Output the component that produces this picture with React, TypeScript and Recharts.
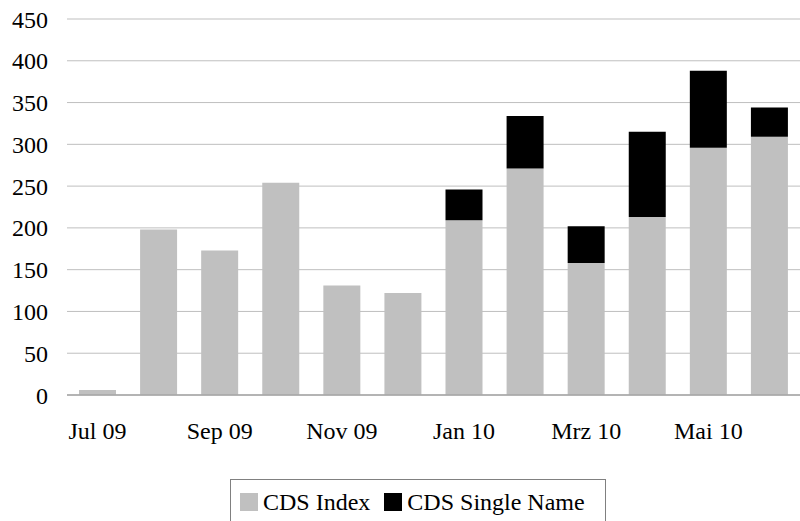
import { Bar, BarChart, CartesianGrid, XAxis, YAxis } from 'recharts'

const months = [
  'Jul 09', 'Aug 09', 'Sep 09', 'Okt 09', 'Nov 09', 'Dez 09',
  'Jan 10', 'Feb 10', 'Mrz 10', 'Apr 10', 'Mai 10', 'Jun 10',
]
const cdsIndex = [6, 198, 173, 254, 131, 122, 209, 271, 158, 213, 296, 309]
const cdsSingle = [0, 0, 0, 0, 0, 0, 37, 63, 44, 102, 92, 35]
const yTicks = [0, 50, 100, 150, 200, 250, 300, 350, 400, 450]
const seriesNames = ['CDS Index', 'CDS Single Name']
const seriesColors = ['#c0c0c0', '#000000']

const data = months.map((m, i) => ({ month: m, index: cdsIndex[i], single: cdsSingle[i] }))

const font = 'Liberation Serif, Times New Roman, DejaVu Serif, serif'
const tickStyle = { fill: '#000', fontSize: 24, fontFamily: font }

export default function App() {
  return (
    <div style={{ position: 'relative', width: 800, height: 521, overflow: 'hidden', fontFamily: font }}>
      <style>{`body{margin:0}`}</style>
      <BarChart
        width={800}
        height={521}
        data={data}
        margin={{ top: 19, right: 0, left: 0, bottom: 86 }}
        barSize={37}
      >
        <CartesianGrid stroke="#bfbfbf" vertical={false} />
        <XAxis
          dataKey="month"
          interval={1}
          tickLine={false}
          tickSize={0}
          tickMargin={27}
          height={40}
          axisLine={{ stroke: '#a6a6a6', strokeWidth: 1.5 }}
          tick={tickStyle}
        />
        <YAxis
          domain={[0, 450]}
          ticks={yTicks}
          width={67}
          axisLine={false}
          tickLine={false}
          tickSize={0}
          tickMargin={19}
          tick={tickStyle}
        />
        <Bar dataKey="index" stackId="a" fill={seriesColors[0]} isAnimationActive={false} />
        <Bar dataKey="single" stackId="a" fill={seriesColors[1]} isAnimationActive={false} />
      </BarChart>
      {/* legend box, sits partly below the bottom edge like the original */}
      <div
        style={{
          position: 'absolute',
          left: 230,
          top: 479,
          width: 376,
          height: 50,
          border: '1px solid #808080',
          boxSizing: 'border-box',
          display: 'flex',
          alignItems: 'flex-start',
          paddingTop: 8,
          paddingLeft: 9,
          fontSize: 24,
          lineHeight: '28px',
          color: '#000',
        }}
      >
        {seriesNames.map((name, i) => (
          <span key={name} style={{ display: 'flex', alignItems: 'center', marginRight: 14 }}>
            <span
              style={{
                display: 'inline-block',
                width: 18,
                height: 18,
                background: seriesColors[i],
                marginRight: 5,
              }}
            />
            {name}
          </span>
        ))}
      </div>
    </div>
  )
}
